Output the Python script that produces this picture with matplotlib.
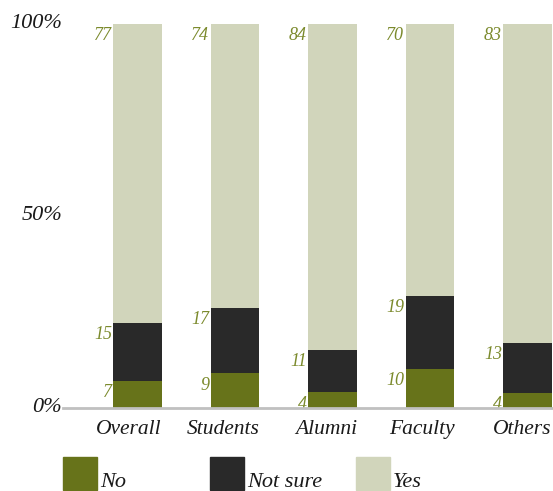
import matplotlib
matplotlib.use("Agg")
import matplotlib.pyplot as plt
from matplotlib.patches import Rectangle
from matplotlib.transforms import offset_copy
import numpy as np

categories = ["Overall", "Students", "Alumni", "Faculty", "Others"]
no_vals = [7, 9, 4, 10, 4]
notsure_vals = [15, 17, 11, 19, 13]
yes_vals = [77, 74, 84, 70, 83]
series_names = ["No", "Not sure", "Yes"]
colors = ["#67731a", "#292929", "#d1d5bb"]
label_color = "#7b8a2c"
ytick_vals = [0, 50, 100]
ytick_labels = ["0%", "50%", "100%"]

W, H = 553, 491
fig = plt.figure(figsize=(W / 100, H / 100), dpi=100)
ax = fig.add_axes([63 / W, 1 - 408 / H, (W - 63) / W, (408 - 24) / H])

font = dict(family="Liberation Serif", style="italic")

data = np.array([no_vals, notsure_vals, yes_vals], dtype=float)
totals = data.sum(axis=0)
pct = data / totals * 100
x = np.arange(len(categories))
width = 0.5
bottom = np.zeros(len(categories))
for i, name in enumerate(series_names):
    ax.bar(x, pct[i], width, bottom=bottom, color=colors[i], label=name, zorder=2)
    tops = bottom + pct[i]
    for xi, top, v in zip(x, tops, data[i]):
        ax.text(xi - width / 2 - 0.012, top - 0.8, f"{int(v)}", ha="right", va="top",
                color=label_color, fontsize=13, **font)
    bottom = tops

ax.set_xlim(-0.764, 4.262)
ax.set_ylim(0, 100)
for s in ["top", "right", "left"]:
    ax.spines[s].set_visible(False)
ax.spines["bottom"].set_color("#c0c0c0")
ax.spines["bottom"].set_linewidth(2)
ax.spines["bottom"].set_zorder(3)
ax.set_xticks([])
for xi, cat in zip(x, categories):
    ax.text(xi + width / 2, -3.2, cat, ha="right", va="top", fontsize=15.5,
            color="#1a1a1a", clip_on=False, **font)
ax.set_yticks([])
ytr = offset_copy(ax.get_yaxis_transform(), fig=fig, x=-1, y=3, units="dots")
for v, lab in zip(ytick_vals, ytick_labels):
    ax.text(0, v, lab, transform=ytr, ha="right", va="center_baseline", fontsize=16,
            color="#1a1a1a", clip_on=False, **font)

# legend
leg_x = [63, 210, 356]
for lx, name, c in zip(leg_x, series_names, colors):
    fig.add_artist(Rectangle((lx / W, 1 - 490 / H), 34 / W, 33 / H,
                             transform=fig.transFigure, color=c))
    fig.text((lx + 37) / W, 1 - 492 / H, name, ha="left", va="bottom",
             fontsize=16, color="#1a1a1a", **font)

fig.savefig("out.png", dpi=100)
